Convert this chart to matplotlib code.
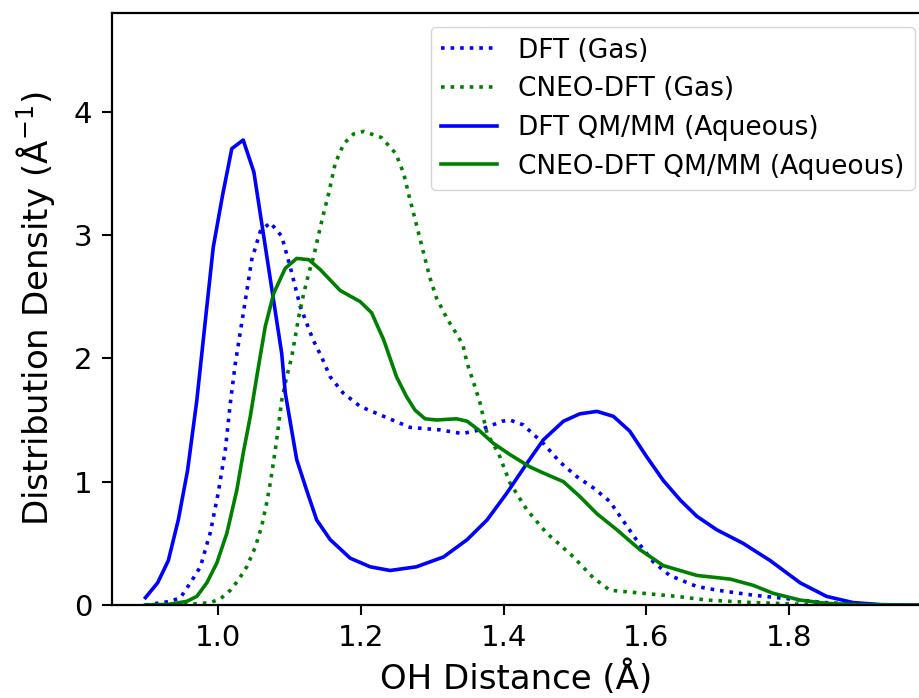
import matplotlib
matplotlib.use('Agg')
import matplotlib.pyplot as plt
import numpy as np

# DFT (Gas)
dft_gas_x = [0.898, 0.933, 0.947, 0.961, 0.975, 0.989, 1.0, 1.010, 1.017, 1.024, 1.038, 1.047, 1.059, 1.073,
             1.089, 1.101, 1.115, 1.133, 1.145, 1.157, 1.175, 1.199, 1.236, 1.269, 1.311, 1.342, 1.367, 1.398,
             1.409, 1.428, 1.437, 1.456, 1.479, 1.503, 1.526, 1.549, 1.573, 1.591, 1.610, 1.633, 1.671,
             1.70, 1.75, 1.80, 1.85, 1.90, 1.95, 2.0]
dft_gas_y = [0.0, 0.03, 0.06, 0.18, 0.31, 0.59, 0.91, 1.26, 1.64, 1.96, 2.47, 2.80, 3.03, 3.10,
             2.99, 2.74, 2.42, 2.15, 2.01, 1.85, 1.72, 1.61, 1.52, 1.44, 1.42, 1.39, 1.42, 1.49,
             1.50, 1.46, 1.41, 1.31, 1.16, 1.04, 0.95, 0.84, 0.64, 0.49, 0.35, 0.24, 0.15,
             0.12, 0.08, 0.05, 0.02, 0.005, 0.0, 0.0]

# CNEO-DFT (Gas)
cneo_gas_x = [0.898, 0.95, 0.989, 1.003, 1.017, 1.028, 1.040, 1.052, 1.061, 1.068, 1.073, 1.078, 1.082, 1.089,
              1.096, 1.103, 1.113, 1.120, 1.127, 1.134, 1.141, 1.148, 1.155, 1.164, 1.176, 1.190, 1.204,
              1.229, 1.249, 1.260, 1.267, 1.275, 1.282, 1.289, 1.297, 1.306, 1.321, 1.335, 1.343, 1.349,
              1.360, 1.367, 1.377, 1.393, 1.409, 1.433, 1.461, 1.475, 1.498, 1.526, 1.549, 1.596, 1.643,
              1.685, 1.75, 1.80, 1.85, 1.90, 2.0]
cneo_gas_y = [0.0, 0.0, 0.02, 0.05, 0.12, 0.20, 0.31, 0.47, 0.64, 0.83, 0.99, 1.18, 1.34, 1.66,
              1.85, 2.01, 2.34, 2.53, 2.69, 2.83, 3.01, 3.18, 3.34, 3.58, 3.74, 3.82, 3.84,
              3.79, 3.66, 3.50, 3.33, 3.15, 2.99, 2.83, 2.65, 2.49, 2.32, 2.19, 2.11, 1.96,
              1.77, 1.64, 1.39, 1.23, 0.99, 0.77, 0.58, 0.51, 0.39, 0.22, 0.12, 0.095, 0.07,
              0.04, 0.02, 0.01, 0.0, 0.0, 0.0]

# DFT QM/MM (Aqueous)
dft_aq_x = [0.898, 0.915, 0.930, 0.944, 0.957, 0.970, 0.982, 0.993, 1.006, 1.019, 1.035, 1.050, 1.089,
            1.094, 1.110, 1.124, 1.138, 1.157, 1.185, 1.213, 1.241, 1.278, 1.316, 1.349, 1.377, 1.405,
            1.433, 1.456, 1.484, 1.507, 1.531, 1.554, 1.577, 1.601, 1.624, 1.648, 1.671, 1.699, 1.736,
            1.774, 1.816, 1.853, 1.890, 1.93, 1.97, 2.0]
dft_aq_y = [0.06, 0.18, 0.36, 0.69, 1.09, 1.66, 2.31, 2.90, 3.32, 3.70, 3.77, 3.51, 2.04,
            1.72, 1.18, 0.93, 0.69, 0.53, 0.38, 0.31, 0.28, 0.31, 0.39, 0.53, 0.69, 0.91,
            1.15, 1.34, 1.49, 1.55, 1.57, 1.53, 1.41, 1.20, 1.01, 0.85, 0.72, 0.61, 0.50,
            0.36, 0.18, 0.07, 0.02, 0.003, 0.0, 0.0]

# CNEO-DFT QM/MM (Aqueous)
cneo_aq_x = [0.898, 0.93, 0.956, 0.970, 0.984, 0.998, 1.012, 1.026, 1.035, 1.045, 1.054, 1.066, 1.078,
             1.094, 1.110, 1.127, 1.143, 1.171, 1.199, 1.215, 1.232, 1.250, 1.264, 1.276, 1.290, 1.306,
             1.334, 1.349, 1.365, 1.386, 1.409, 1.437, 1.456, 1.484, 1.507, 1.531, 1.559, 1.591, 1.624,
             1.671, 1.718, 1.750, 1.778, 1.816, 1.853, 1.90, 1.95, 2.0]
cneo_aq_y = [0.0, 0.005, 0.03, 0.07, 0.18, 0.34, 0.58, 0.93, 1.23, 1.53, 1.85, 2.26, 2.53,
             2.73, 2.81, 2.80, 2.72, 2.55, 2.46, 2.37, 2.15, 1.85, 1.69, 1.58, 1.51, 1.50,
             1.51, 1.49, 1.42, 1.31, 1.22, 1.12, 1.07, 1.00, 0.88, 0.74, 0.61, 0.45, 0.32,
             0.24, 0.21, 0.16, 0.095, 0.04, 0.013, 0.003, 0.0, 0.0]

fig = plt.figure(figsize=(9.2, 6.98), dpi=100)
ax = fig.add_axes([0.1217, 0.1332, 0.8783, 0.8482])

lw = 2.6
ax.plot(dft_gas_x, dft_gas_y, linestyle=':', color='blue', linewidth=lw, label='DFT (Gas)')
ax.plot(cneo_gas_x, cneo_gas_y, linestyle=':', color='green', linewidth=lw, label='CNEO-DFT (Gas)')
ax.plot(dft_aq_x, dft_aq_y, linestyle='-', color='blue', linewidth=lw, label='DFT QM/MM (Aqueous)')
ax.plot(cneo_aq_x, cneo_aq_y, linestyle='-', color='green', linewidth=lw, label='CNEO-DFT QM/MM (Aqueous)')

ax.set_xlim(0.851, 1.984)
ax.set_ylim(0, 4.8)
ax.set_xticks([1.0, 1.2, 1.4, 1.6, 1.8])
ax.set_yticks([0, 1, 2, 3, 4])
ax.tick_params(labelsize=21, length=7, width=1.5, pad=7)
ax.spines['right'].set_visible(False)
for s in ['left', 'top', 'bottom']:
    ax.spines[s].set_linewidth(1.6)

ax.set_xlabel('OH Distance (Å)', fontsize=24.5, labelpad=6)
ax.set_ylabel('Distribution Density (Å$^{-1}$)', fontsize=24.5, labelpad=12)

ax.legend(loc='upper right', fontsize=19, bbox_to_anchor=(1.0, 0.985), borderaxespad=0.2,
          handlelength=2.1, labelspacing=0.48)

fig.savefig('out.png', dpi=100)
